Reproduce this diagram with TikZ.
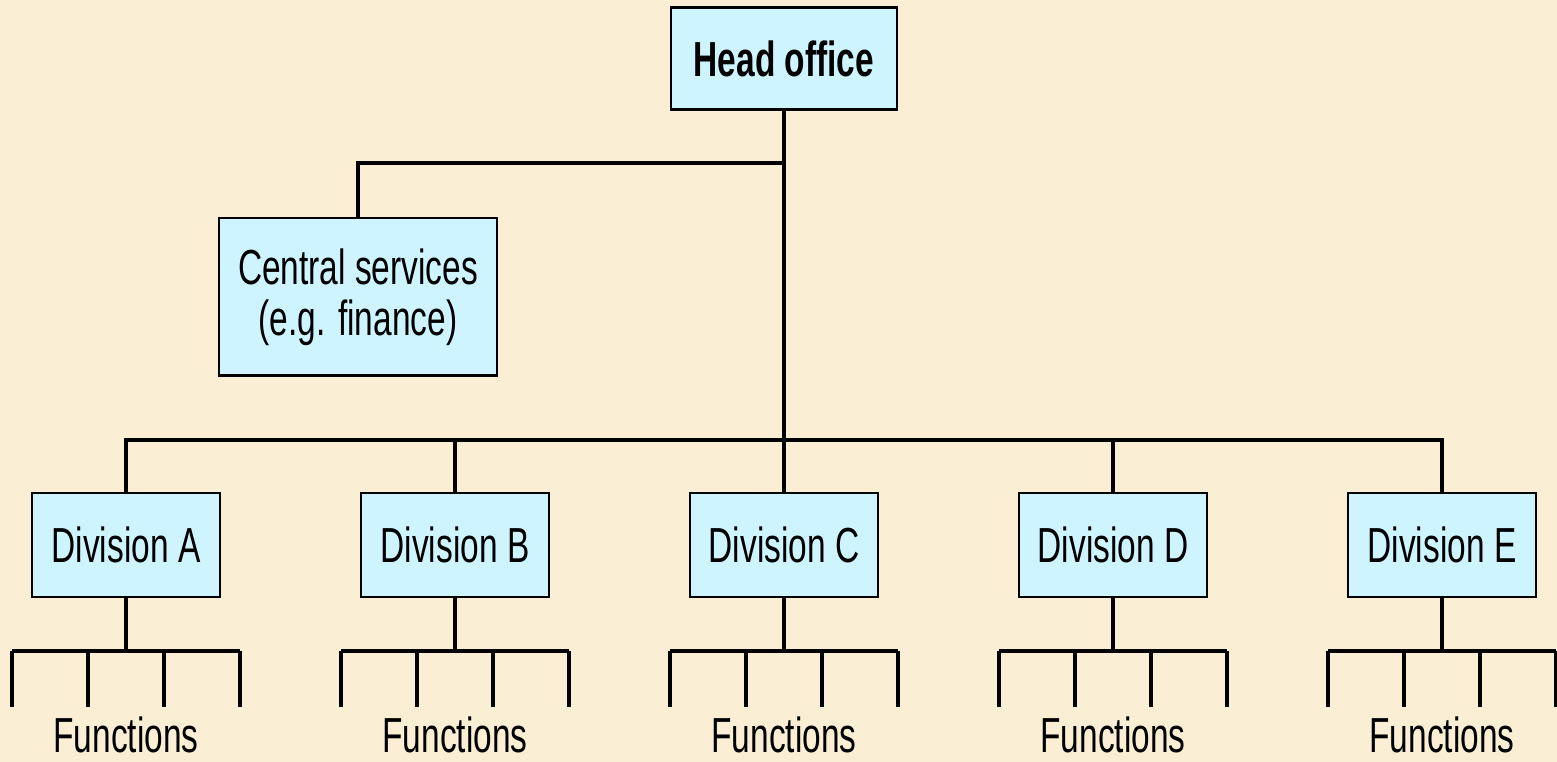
\documentclass[tikz,border=0pt]{standalone}
\usepackage{fontspec}
\setmainfont{Liberation Sans}[FakeStretch=0.68]
\definecolor{paper}{RGB}{250,239,212}
\definecolor{boxcyan}{RGB}{206,245,255}
\newcommand{\DIVSTEP}{329}
\newcommand{\TICKLEN}{56}
\tikzset{
  unit/.style={draw=black, fill=boxcyan, line width=0.6pt, inner sep=0pt},
  wire/.style={draw=black, line width=1pt},
}

\begin{document}
\begin{tikzpicture}[x=0.01cm, y=-0.01cm]
	\useasboundingbox[fill=paper] (0,0) rectangle (1557,762);
	\fontsize{14}{14.5}\selectfont

	% top of the tree
	\node[unit, minimum width=2.26cm, minimum height=1.02cm] (head) at (784,58.5) {\bfseries Head office};
	\node[unit, minimum width=2.78cm, minimum height=1.57cm, align=center] (cserv) at (358,297) {Central services\\(e.g. finance)};
	\coordinate (split) at (784,163);
	\coordinate (hub) at (784,440);
	\draw[wire] (head) -- (hub);
	\draw[wire] (split) -| (cserv);

	% divisions and their functions
	\foreach \d [count=\i from 0] in {A,B,C,D,E} {
		\node[unit, minimum width=1.88cm, minimum height=1.04cm] (div\d) at (126+\i*\DIVSTEP,545) {Division \d};
		\draw[wire] (hub) -| (div\d);
		\coordinate (fork\d) at (126+\i*\DIVSTEP,651);
		\draw[wire] (div\d) -- (fork\d);
		\draw[wire] ([xshift=-1.14cm]fork\d) -- ([xshift=1.14cm]fork\d);
		\foreach \t in {-114,-38,38,114}
			\draw[wire] ([xshift=\t*0.01cm]fork\d) -- ++(0,\TICKLEN);
		\node[anchor=base] (fun\d) at (126+\i*\DIVSTEP,753) {Functions};
	}
\end{tikzpicture}
\end{document}
